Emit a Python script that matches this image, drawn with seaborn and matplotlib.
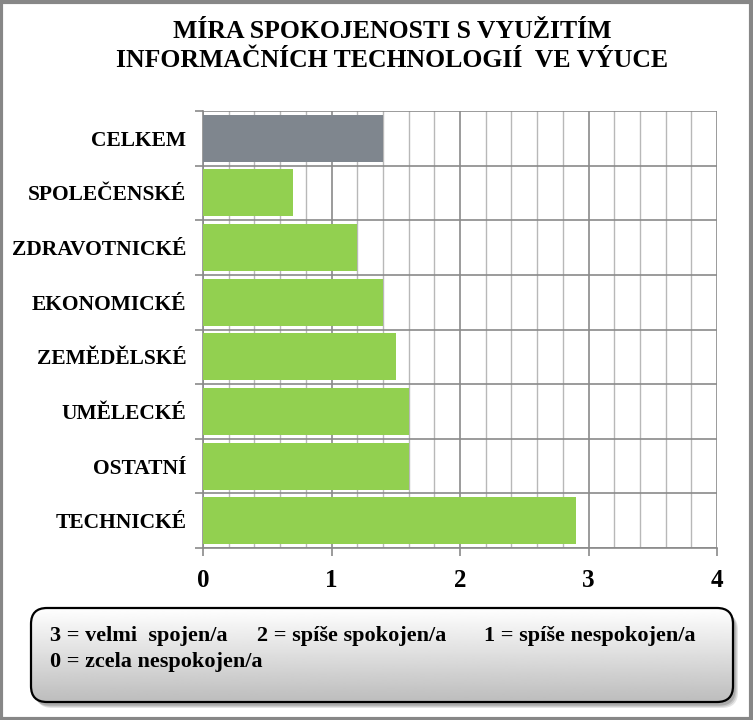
import numpy as np
import pandas as pd
import matplotlib
matplotlib.use("Agg")
import matplotlib.pyplot as plt
import seaborn as sns
from matplotlib.patches import FancyBboxPatch, Rectangle
from matplotlib.ticker import MultipleLocator, FixedLocator

categories = ["CELKEM", "SPOLEČENSKÉ", "ZDRAVOTNICKÉ", "EKONOMICKÉ",
              "ZEMĚDĚLSKÉ", "UMĚLECKÉ", "OSTATNÍ", "TECHNICKÉ"]
values = [1.4, 0.7, 1.2, 1.4, 1.5, 1.6, 1.6, 2.9]
bar_colors = ["#7F868E", "#92D050", "#92D050", "#92D050",
              "#92D050", "#92D050", "#92D050", "#92D050"]
title = "MÍRA SPOKOJENOSTI S VYUŽITÍM\nINFORMAČNÍCH TECHNOLOGIÍ  VE VÝUCE"
legend_line1 = ["3 = velmi  spojen/a", "2 = spíše spokojen/a", "1 = spíše nespokojen/a"]
legend_line2 = "0 = zcela nespokojen/a"
x_ticks = [0, 1, 2, 3, 4]

sns.set_theme(style="white")
plt.rcParams["font.family"] = ["Liberation Serif", "DejaVu Serif"]
plt.rcParams["font.weight"] = "bold"
for k in ["text.color", "axes.labelcolor", "xtick.labelcolor", "ytick.labelcolor"]:
    plt.rcParams[k] = "black"

W, H = 753, 720
fig = plt.figure(figsize=(W / 100, H / 100), dpi=100)
fig.patch.set_facecolor("white")

ax = fig.add_axes([203 / W, 1 - 548 / H, (717 - 203) / W, (548 - 111) / H])
df = pd.DataFrame({"cat": categories, "val": values})
sns.barplot(data=df, x="val", y="cat", hue="cat", palette=bar_colors,
            legend=False, width=0.86, saturation=1, ax=ax, zorder=3,
            linewidth=0)

ax.set_xlim(0, 4)
ax.set_ylim(len(categories) - 0.5, -0.5)
ax.set_xlabel("")
ax.set_ylabel("")

# grid
ax.xaxis.set_major_locator(FixedLocator(x_ticks))
ax.xaxis.set_minor_locator(MultipleLocator(0.2))
ax.grid(which="minor", axis="x", color="#B8B8B8", linewidth=1.0, zorder=0)
ax.grid(which="major", axis="x", color="#8A8A8A", linewidth=1.2, zorder=0)
bounds = np.arange(-0.5, len(categories), 1.0)
ax.yaxis.set_minor_locator(FixedLocator(bounds))
ax.grid(which="minor", axis="y", color="#8A8A8A", linewidth=1.2, zorder=0)
ax.set_axisbelow(True)

for s in ["top", "right"]:
    ax.spines[s].set_visible(False)
ax.spines["left"].set_color("#8A8A8A")
ax.spines["left"].set_linewidth(1.2)
ax.spines["bottom"].set_color("#8A8A8A")
ax.spines["bottom"].set_linewidth(1.2)

ax.tick_params(axis="y", which="major", length=0, pad=12, labelsize=15.5,
               labelcolor="black")
ax.tick_params(axis="y", which="minor", length=6, width=1.2, color="#8A8A8A", left=True)
ax.tick_params(axis="x", which="major", length=6, width=1.2, color="#8A8A8A",
               bottom=True, pad=9, labelsize=18, labelcolor="black")
ax.tick_params(axis="x", which="minor", length=0)
ax.set_xticklabels([str(t) for t in x_ticks], fontweight="bold")
for lab in ax.get_yticklabels():
    lab.set_fontweight("bold")

fig.text(392 / W, 1 - 46 / H, title, ha="center", va="center", fontsize=18.5,
         fontweight="bold", linespacing=1.3, color="black")

# overlay for border and legend box
ov = fig.add_axes([0, 0, 1, 1], zorder=5)
ov.set_xlim(0, W)
ov.set_ylim(H, 0)
ov.axis("off")
ov.patch.set_alpha(0)

ov.add_patch(Rectangle((1.5, 1.5), W - 3, H - 3, fill=False,
                       edgecolor="#878787", linewidth=3))

bx, by, bw, bh = 31, 608, 702, 94
for i, a in enumerate([0.10, 0.12, 0.15]):
    off = 5 - i * 1.2
    ov.add_patch(FancyBboxPatch((bx + off, by + off + 1), bw, bh,
                                boxstyle="round,pad=0,rounding_size=16",
                                facecolor="black", edgecolor="none", alpha=a))
box = FancyBboxPatch((bx, by), bw, bh, boxstyle="round,pad=0,rounding_size=16",
                     facecolor="none", edgecolor="black", linewidth=1.6)
grad = np.linspace(1.0, 0.74, 100).reshape(-1, 1)
im = ov.imshow(grad, extent=[bx, bx + bw, by + bh, by], cmap="gray",
               vmin=0, vmax=1, aspect="auto", zorder=2)
clip = FancyBboxPatch((bx, by), bw, bh, boxstyle="round,pad=0,rounding_size=16",
                      facecolor="none", edgecolor="none")
ov.add_patch(clip)
im.set_clip_path(clip)
box.set_zorder(3)
ov.add_patch(box)
ov.set_xlim(0, W)
ov.set_ylim(H, 0)

xs = [50, 257, 484]
for xx, t in zip(xs, legend_line1):
    ov.text(xx, 636, t, ha="left", va="center", fontsize=16, fontweight="bold",
            zorder=4, color="black")
ov.text(50, 662, legend_line2, ha="left", va="center", fontsize=16,
        fontweight="bold", zorder=4, color="black")

fig.savefig("out.png", dpi=100, facecolor="white")
